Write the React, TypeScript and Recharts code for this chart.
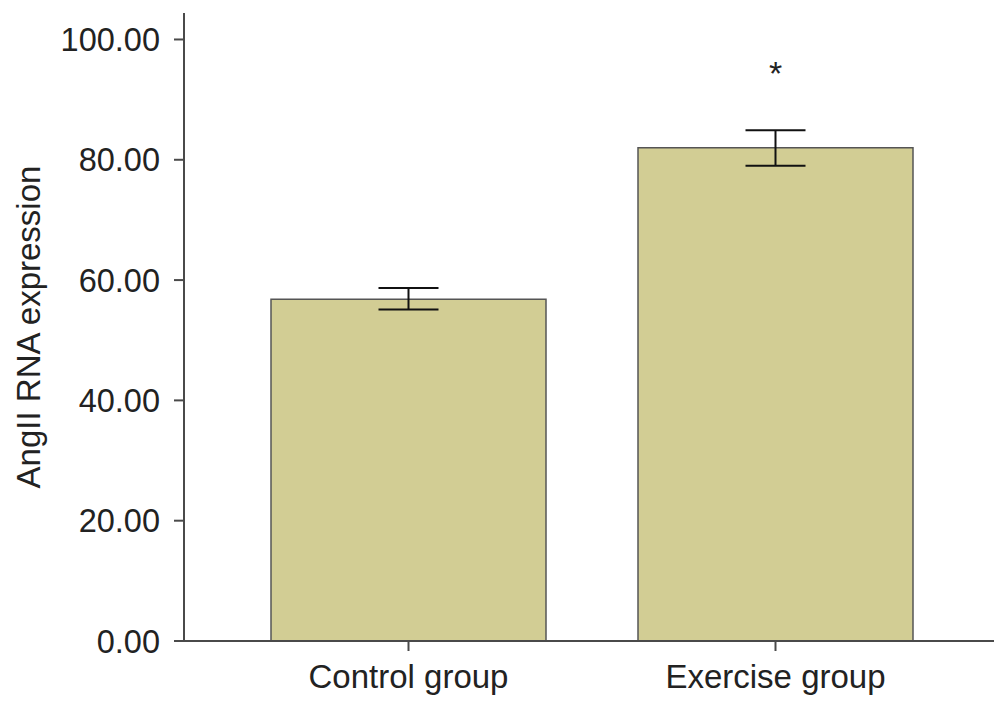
import { Bar, ComposedChart, ErrorBar, Scatter, XAxis, YAxis } from "recharts";

const categories = ["Control group", "Exercise group"];
const means = [56.8, 82.0];
const errLow = [1.7, 3.0];
const errHigh = [1.9, 2.9];
const starAt = [null, 95.6];
const yTicks = [0, 20, 40, 60, 80, 100];

const FONT = "'Liberation Sans', Arial, sans-serif";
const AXIS = "#4a4a4a";

const data = categories.map((name, i) => ({
  name,
  value: means[i],
  err: [errLow[i], errHigh[i]],
  star: starAt[i],
}));

function Star(props: any) {
  const { cx, cy, payload } = props;
  if (payload?.star == null) return null;
  return (
    <text x={cx} y={cy + 19} textAnchor="middle" fontSize={34} fontFamily={FONT} fill="#222">
      *
    </text>
  );
}

function YLabel(props: any) {
  const vb = props.viewBox || {};
  const cy = (vb.y ?? 0) + (vb.height ?? 0) / 2;
  const x = 20;
  return (
    <text
      x={x}
      y={cy}
      transform={`rotate(-90, ${x}, ${cy})`}
      textAnchor="middle"
      dominantBaseline="central"
      fontSize={33}
      fontFamily={FONT}
      fill="#222"
    >
      AngII RNA expression
    </text>
  );
}

export default function App() {
  return (
    <div style={{ width: 1000, height: 700 }}>
      <ComposedChart
        width={1000}
        height={700}
        data={data}
        margin={{ top: 5, right: 14, bottom: 0, left: 0 }}
      >
        <XAxis
          dataKey="name"
          height={67}
          padding={{ left: 41, right: 35 }}
          axisLine={{ stroke: AXIS, strokeWidth: 2 }}
          tickLine={{ stroke: AXIS, strokeWidth: 2 }}
          tickSize={10}
          tickMargin={14}
          tick={{ fontSize: 33, fontFamily: FONT, fill: "#222" }}
        />
        <YAxis
          width={176}
          domain={[0, 104.4]}
          ticks={yTicks}
          interval={0}
          tickFormatter={(v: number) => v.toFixed(2)}
          axisLine={{ stroke: AXIS, strokeWidth: 2 }}
          tickLine={{ stroke: AXIS, strokeWidth: 2 }}
          tickSize={10}
          tickMargin={14}
          tick={{ fontSize: 32.5, fontFamily: FONT, fill: "#222" }}
          label={<YLabel />}
        />
        <Bar
          dataKey="value"
          barSize={275}
          fill="#d2cd94"
          stroke="#555"
          strokeWidth={1.5}
          isAnimationActive={false}
        >
          <ErrorBar dataKey="err" width={30} stroke="#111" strokeWidth={2} />
        </Bar>
        <Scatter dataKey="star" shape={<Star />} isAnimationActive={false} />
      </ComposedChart>
    </div>
  );
}
